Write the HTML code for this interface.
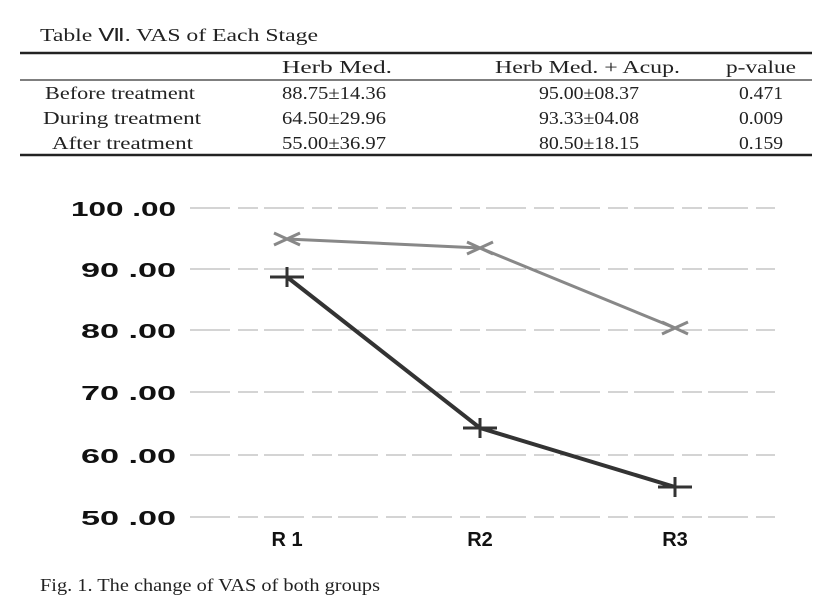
<!DOCTYPE html>
<html><head><meta charset="utf-8"><style>
body{margin:0;background:#fff;width:832px;height:609px;overflow:hidden}
svg{display:block}
.s{font-family:"Liberation Serif",serif;font-size:18px;fill:#222}
.a{font-family:"Liberation Sans",sans-serif;font-weight:bold;font-size:20px;fill:#111}
</style></head><body>
<svg width="832" height="609" viewBox="0 0 832 609">
<text class="s" x="40" y="41" textLength="278" lengthAdjust="spacingAndGlyphs">Table Ⅶ. VAS of Each Stage</text>
<line x1="20" y1="53" x2="812" y2="53" stroke="#222" stroke-width="2.5"/>
<line x1="20" y1="80" x2="812" y2="80" stroke="#555" stroke-width="1.5"/>
<line x1="20" y1="155" x2="812" y2="155" stroke="#222" stroke-width="2.5"/>
<g class="s">
<text x="282" y="73" textLength="110" lengthAdjust="spacingAndGlyphs">Herb Med.</text><text x="495" y="73" textLength="185" lengthAdjust="spacingAndGlyphs">Herb Med. + Acup.</text><text x="726" y="73" textLength="70" lengthAdjust="spacingAndGlyphs">p-value</text>
<text x="45" y="99" textLength="150" lengthAdjust="spacingAndGlyphs">Before treatment</text><text x="282" y="99" textLength="104" lengthAdjust="spacingAndGlyphs">88.75±14.36</text><text x="539" y="99" textLength="100" lengthAdjust="spacingAndGlyphs">95.00±08.37</text><text x="739" y="99" textLength="44" lengthAdjust="spacingAndGlyphs">0.471</text>
<text x="43" y="124" textLength="158" lengthAdjust="spacingAndGlyphs">During treatment</text><text x="282" y="124" textLength="104" lengthAdjust="spacingAndGlyphs">64.50±29.96</text><text x="539" y="124" textLength="100" lengthAdjust="spacingAndGlyphs">93.33±04.08</text><text x="739" y="124" textLength="44" lengthAdjust="spacingAndGlyphs">0.009</text>
<text x="52" y="149" textLength="141" lengthAdjust="spacingAndGlyphs">After treatment</text><text x="282" y="149" textLength="104" lengthAdjust="spacingAndGlyphs">55.00±36.97</text><text x="539" y="149" textLength="100" lengthAdjust="spacingAndGlyphs">80.50±18.15</text><text x="739" y="149" textLength="44" lengthAdjust="spacingAndGlyphs">0.159</text>
</g>
<g stroke="#aaa" stroke-width="1" stroke-dasharray="40 8 20 6">
<line x1="190" y1="208" x2="775" y2="208"/><line x1="190" y1="269" x2="775" y2="269"/>
<line x1="190" y1="330" x2="775" y2="330"/><line x1="190" y1="392" x2="775" y2="392"/>
<line x1="190" y1="455" x2="775" y2="455"/><line x1="190" y1="517" x2="775" y2="517"/>
</g>
<g class="a">
<text x="71" y="216" textLength="105" lengthAdjust="spacingAndGlyphs">100 .00</text><text x="81" y="277" textLength="95" lengthAdjust="spacingAndGlyphs">90 .00</text><text x="81" y="338" textLength="95" lengthAdjust="spacingAndGlyphs">80 .00</text>
<text x="81" y="400" textLength="95" lengthAdjust="spacingAndGlyphs">70 .00</text><text x="81" y="463" textLength="95" lengthAdjust="spacingAndGlyphs">60 .00</text><text x="81" y="525" textLength="95" lengthAdjust="spacingAndGlyphs">50 .00</text>
</g>
<g class="a" text-anchor="middle"><text x="287" y="546">R 1</text><text x="480" y="546">R2</text><text x="675" y="546">R3</text></g>
<polyline points="287,239 480,248 675,328" fill="none" stroke="#888" stroke-width="3"/>
<g stroke="#888" stroke-width="3"><path d="M274,233 l26,12 M274,245 l26,-12 M467,242 l26,12 M467,254 l26,-12 M662,322 l26,12 M662,334 l26,-12"/></g>
<polyline points="287,277 480,428 675,487" fill="none" stroke="#333" stroke-width="4"/>
<g stroke="#333" stroke-width="3"><path d="M270,277 h34 M287,267 v20 M463,428 h34 M480,418 v20 M658,487 h34 M675,477 v20"/></g>
<text class="s" x="40" y="591" textLength="340" lengthAdjust="spacingAndGlyphs">Fig. 1. The change of VAS of both groups</text>
</svg>
</body></html>
